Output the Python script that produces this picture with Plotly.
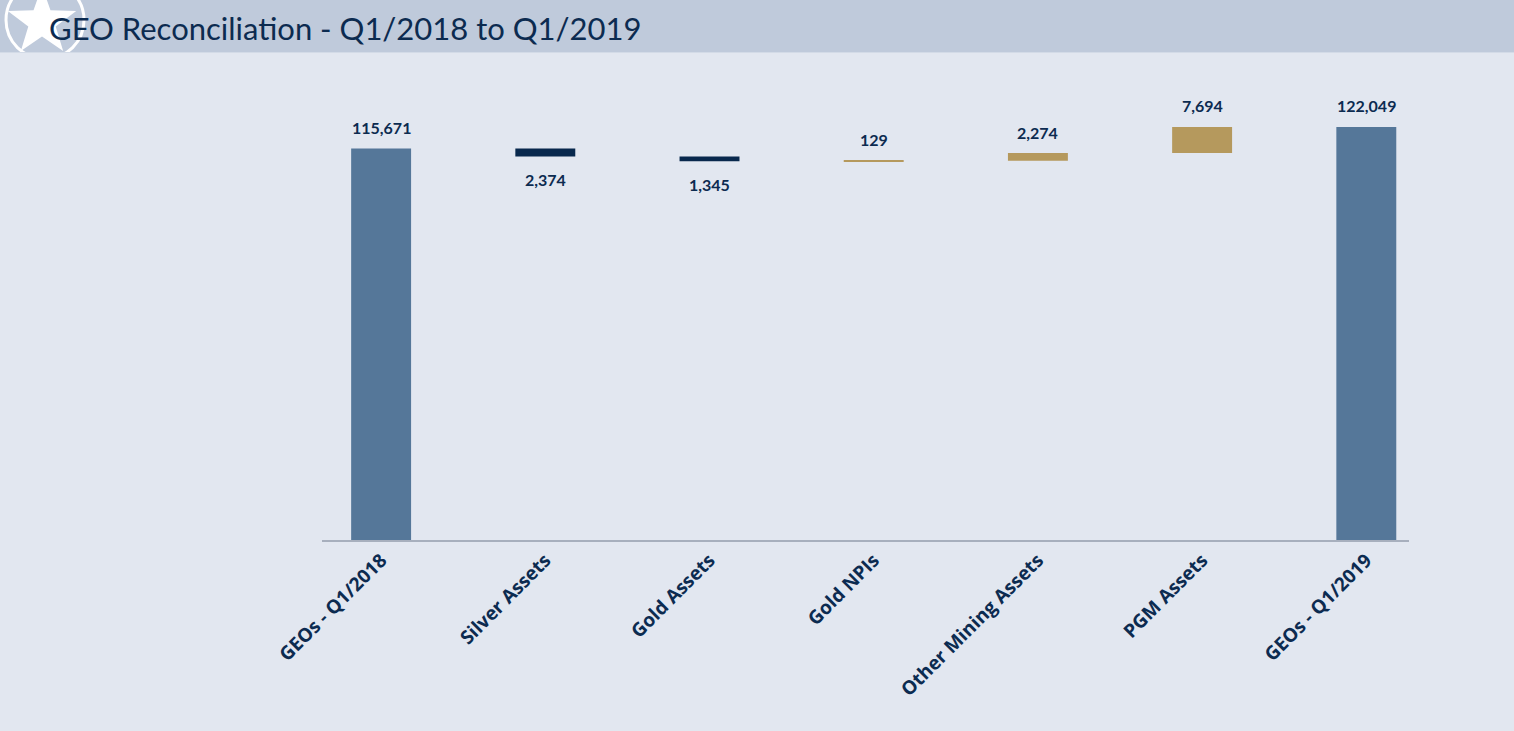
import math
import plotly.graph_objects as go

# ---- data ----
categories = ["GEOs - Q1/2018", "Silver Assets", "Gold Assets", "Gold NPIs",
              "Other Mining Assets", "PGM Assets", "GEOs - Q1/2019"]
values = [115671, -2374, -1345, 129, 2274, 7694, 122049]
measures = ["absolute", "relative", "relative", "relative", "relative", "relative", "total"]
labels = [f"{abs(v):,}" for v in values]

# ---- layout constants (pixels) ----
W, H = 1514, 731
L, R, T, B = 322, 105, 80, 191
PW, PH = W - L - R, H - T - B


def px(x):
    return (x - L) / PW


def py(y):
    return (H - B - y) / PH


BG = "#e2e7f0"
HEADER = "#bfcadb"
NAVY = "#0c2b50"

fig = go.Figure(go.Waterfall(
    x=categories,
    y=values,
    measure=measures,
    textinfo="none",
    connector=dict(visible=False),
    increasing=dict(marker=dict(color="#b5995d")),
    decreasing=dict(marker=dict(color="#08284d")),
    totals=dict(marker=dict(color="#557799")),
    hoverinfo="x+y",
))

# value labels positioned from the running totals
annotations = []
running = 0
for cat, m, v, lab in zip(categories, measures, values, labels):
    if m == "absolute" or m == "total":
        start, end = 0, v
        running = v
    else:
        start, end = running, running + v
        running = end
    if v >= 0 or m != "relative":
        annotations.append(dict(x=cat, y=max(start, end), text=lab, showarrow=False,
                                yanchor="middle", yshift=21,
                                font=dict(family="Lato", size=16, color=NAVY, weight="bold")))
    else:
        annotations.append(dict(x=cat, y=min(start, end), text=lab, showarrow=False,
                                yanchor="middle", yshift=-23,
                                font=dict(family="Lato", size=16, color=NAVY, weight="bold")))

annotations.append(dict(
    text="GEO Reconciliation - Q1/2018 to Q1/2019",
    xref="paper", yref="paper", x=px(47), y=py(28),
    xanchor="left", yanchor="middle", showarrow=False,
    font=dict(family="Lato", size=31, color=NAVY),
))

shapes = []
# header band
shapes.append(dict(type="rect", xref="paper", yref="paper", layer="below",
                   x0=px(0), x1=px(W), y0=py(52), y1=py(0),
                   fillcolor=HEADER, line=dict(width=0)))
# logo circle
cx, cy, r = 45, 20, 39
shapes.append(dict(type="circle", xref="paper", yref="paper", layer="below",
                   x0=px(cx - r), x1=px(cx + r), y0=py(cy + r), y1=py(cy - r),
                   fillcolor="rgba(0,0,0,0)", line=dict(color="white", width=3)))
# logo star
scx, scy, ro, ri = 42, 22, 36, 36 * 0.40
pts = []
for i in range(10):
    ang = -math.pi / 2 + i * math.pi / 5
    rr = ro if i % 2 == 0 else ri
    pts.append((px(scx + rr * math.cos(ang)), py(scy + rr * math.sin(ang))))
path = "M " + " L ".join(f"{a},{b}" for a, b in pts) + " Z"
shapes.append(dict(type="path", xref="paper", yref="paper", layer="below",
                   path=path, fillcolor="white", line=dict(width=0)))
# cover below header (clips logo)
shapes.append(dict(type="rect", xref="paper", yref="paper", layer="below",
                   x0=px(0), x1=px(W), y0=py(110), y1=py(52),
                   fillcolor=BG, line=dict(width=0)))
# thin light line under header
shapes.append(dict(type="line", xref="paper", yref="paper", layer="below",
                   x0=px(0), x1=px(W), y0=py(52.5), y1=py(52.5),
                   line=dict(color="#d3dbe7", width=1)))

fig.update_layout(
    width=W, height=H,
    margin=dict(l=L, r=R, t=T, b=B),
    paper_bgcolor=BG,
    plot_bgcolor="rgba(0,0,0,0)",
    showlegend=False,
    waterfallgap=0.635,
    shapes=shapes,
    annotations=annotations,
    xaxis=dict(
        range=[-0.36, 6.26],
        showline=True, linecolor="#a7afbd", linewidth=1.5,
        showgrid=False, zeroline=False,
        tickangle=-45,
        tickfont=dict(family="Open Sans", size=19, color=NAVY, weight="bold"),
        ticks="",
    ),
    yaxis=dict(
        range=[0, 135930],
        showticklabels=False, showgrid=False, zeroline=False, showline=False,
    ),
)

fig.write_html("out.html")
